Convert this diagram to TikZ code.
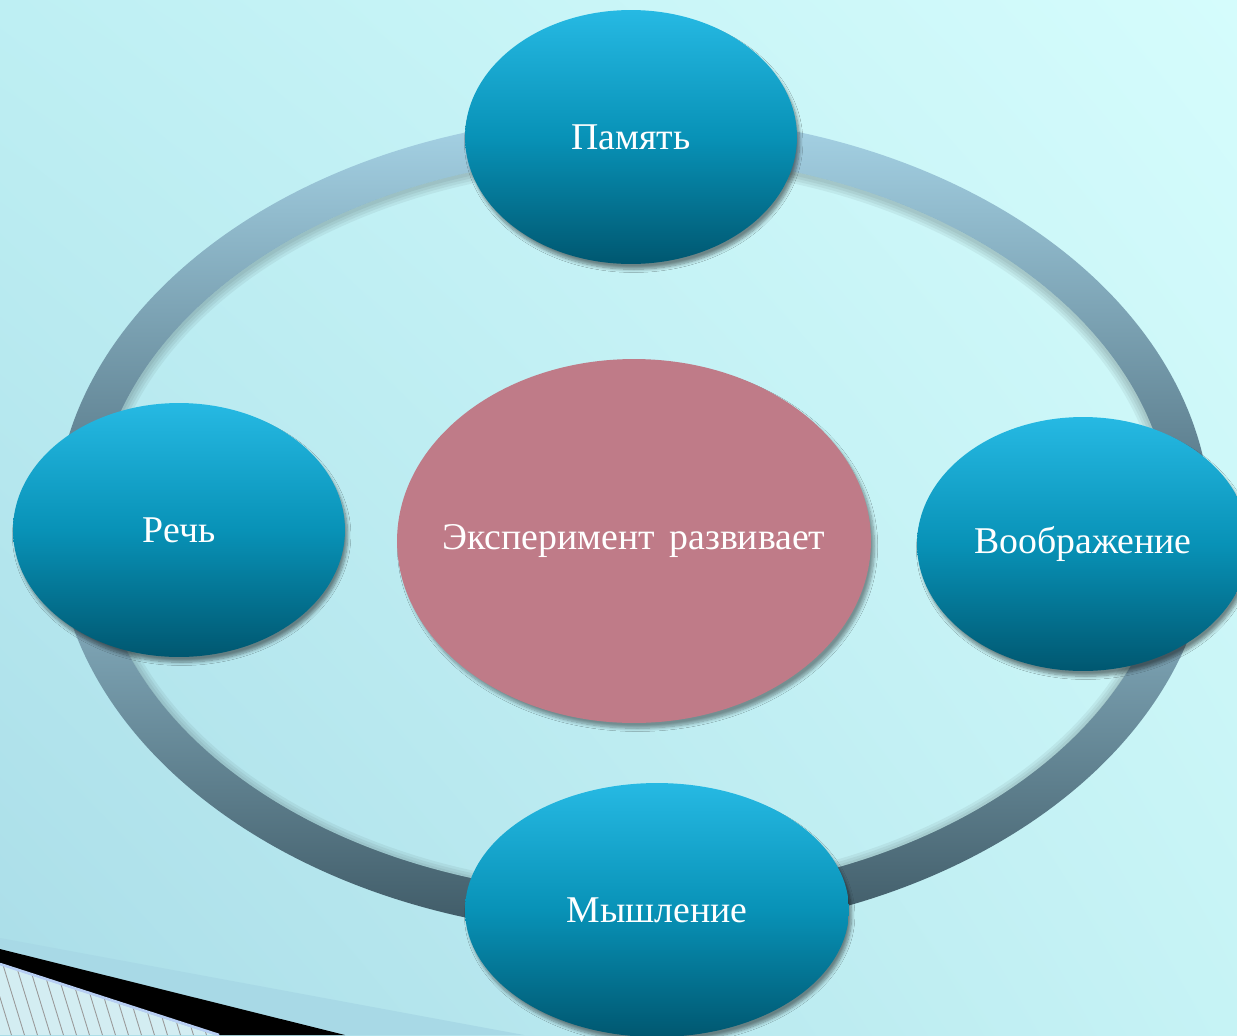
\documentclass[tikz,border=0pt]{standalone}
\usepackage{fontspec}
\setmainfont{Liberation Serif}
\usetikzlibrary{shapes.geometric,shadows.blur,shadings}
\definecolor{bgUL}{HTML}{BEEFF3}
\definecolor{bgUR}{HTML}{D5FCFC}
\definecolor{bgLL}{HTML}{AADDE8}
\definecolor{bgLR}{HTML}{C6F3F5}
\definecolor{ringA}{HTML}{A6D3E6}
\definecolor{ringB}{HTML}{50707F}
\definecolor{ringC}{HTML}{94BFD1}
\definecolor{ringD}{HTML}{3E5965}
\definecolor{nodeTop}{HTML}{26B9E3}
\definecolor{nodeMid}{HTML}{0892B7}
\definecolor{nodeBot}{HTML}{005770}
\definecolor{pinkfill}{HTML}{BF7B88}
\definecolor{bandblue}{HTML}{A8D9E6}
\definecolor{hatchbg}{HTML}{D3EDF2}
\tikzset{
  bgshade/.style={upper left=bgUL, upper right=bgUR, lower left=bgLL, lower right=bgLR},
  bluebubble/.style={ellipse, inner sep=0pt, minimum width=6.64cm, minimum height=5.08cm,
    top color=nodeTop, bottom color=nodeBot, middle color=nodeMid,
    blur shadow={shadow xshift=1.5pt, shadow yshift=-3pt, shadow blur steps=8, shadow opacity=45},
    text=white, font=\fontsize{21.5}{26}\selectfont},
  pinkbubble/.style={ellipse, inner sep=0pt, minimum width=9.48cm, minimum height=7.28cm,
    fill=pinkfill,
    blur shadow={shadow xshift=2pt, shadow yshift=-3pt, shadow blur steps=8, shadow opacity=40},
    text=white, font=\fontsize{21.5}{26}\selectfont},
}
\begin{document}
\begin{tikzpicture}[x=0.02cm, y=-0.02cm]
\useasboundingbox (0,0) rectangle (1237,1035);
\clip (0,0) rectangle (1237,1035);
% background
\shade[bgshade] (0,0) rectangle (1237,1035);
% ring: upper half
\begin{scope}
  \clip (0,0) rectangle (1237,525);
  \clip (633,525) ellipse [x radius=578, y radius=410];
  \shade[top color=ringA, bottom color=ringB] (0,115) rectangle (1237,525);
\end{scope}
% ring: lower half
\begin{scope}
  \clip (0,525) rectangle (1237,1035);
  \clip (633,525) ellipse [x radius=578, y radius=410];
  \shade[top color=ringC, bottom color=ringD] (0,525) rectangle (1237,935);
\end{scope}
% inside of ring with soft shadow of the ring
\begin{scope}
  \clip (633,525) ellipse [x radius=538, y radius=370];
  \shade[bgshade] (0,0) rectangle (1237,1035);
  \foreach \w in {3,6,9,12} \draw[black, opacity=0.05, line width=\w] (633,527) ellipse [x radius=539, y radius=371];
\end{scope}
% bottom-left decoration
\fill[bandblue] (0,938) -- (524,1035) -- (0,1035) -- cycle;
\fill[black] (0,949) -- (345,1035) -- (220,1035) -- (0,963) -- cycle;
\begin{scope}
  \clip (0,965) -- (214,1035) -- (0,1035) -- cycle;
  \fill[hatchbg] (0,950) rectangle (240,1035);
  \foreach \i in {-8,...,20} \draw[gray!80, line width=0.5] (\i*13,955) -- ++(26,85);
\end{scope}
\draw[bandblue!80!blue!60, line width=1.5] (0,964) -- (219,1035);
% nodes
\node[pinkbubble] (center) at (634,541) {\makebox[0pt]{Эксперимент\hspace{0.38em}развивает}};
\node[bluebubble] (mem) at (631,137) {Память};
\node[bluebubble] (speech) at (179,530) {Речь};
\node[bluebubble] (imag) at (1083,544) {Воображение};
\node[bluebubble, minimum width=7.68cm] (think) at (657,910) {Мышление};
\end{tikzpicture}
\end{document}
